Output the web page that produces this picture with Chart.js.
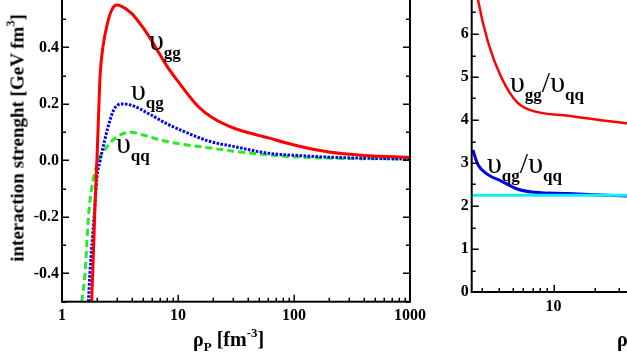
<!DOCTYPE html>
<html><head><meta charset="utf-8">
<script src="https://cdn.jsdelivr.net/npm/chart.js@4.4.0/dist/chart.umd.min.js"></script>
<style>
html,body{margin:0;padding:0;background:#fff;width:627px;height:357px;overflow:hidden;position:relative}
canvas{position:absolute;display:block}
#cl{left:0;top:-9px}
#cr{left:420px;top:-9px}
.t{position:absolute;font-family:"Liberation Serif","Times New Roman",serif;font-weight:bold;color:#000;white-space:nowrap;line-height:1}
.cl{font-size:30px;font-weight:normal}
.cl sub{font-size:17px;font-weight:bold;vertical-align:-8px;line-height:0}
.ax{font-size:20px}
.ax sub{font-size:13px;vertical-align:-5px;line-height:0}
.ax sup{font-size:13px;vertical-align:9px;line-height:0}
.yt{font-size:19px;transform:translate(-50%,-50%) rotate(-90deg)}
.yt sup{font-size:12px;vertical-align:9px;line-height:0}
</style></head>
<body>
<canvas id="cl" width="440" height="366"></canvas>
<canvas id="cr" width="420" height="366"></canvas>

<div class="t yt" style="left:17px;top:138px">interaction strenght [GeV fm<sup>3</sup>]</div>
<div class="t ax" style="left:193px;top:329px">ρ<sub>P</sub> [fm<sup>-3</sup>]</div>
<div class="t ax" style="left:617px;top:329px">ρ<sub>P</sub> [fm<sup>-3</sup>]</div>

<div class="t cl" style="left:149px;top:25px">υ<sub>gg</sub></div>
<div class="t cl" style="left:131px;top:75px">υ<sub>qg</sub></div>
<div class="t cl" style="left:116px;top:128px">υ<sub>qq</sub></div>
<div class="t cl" style="left:510px;top:67px">υ<sub>gg</sub>/υ<sub>qq</sub></div>
<div class="t cl" style="left:487px;top:148px">υ<sub>qg</sub>/υ<sub>qq</sub></div>

<script>
// ---------- data: left panel (interaction strength vs rho_P) ----------
const rhoGG = [1.80, 1.84, 1.93, 2.00, 2.07, 2.13, 2.25, 2.48, 2.70, 2.97, 3.30, 4.0, 5.0, 6.0, 8.0, 10, 15, 20, 30, 60, 100, 200, 400, 1000];
const vGG   = [-0.5, -0.4, -0.15, 0.0, 0.17, 0.30, 0.40, 0.49, 0.535, 0.55, 0.545, 0.52, 0.47, 0.42, 0.335, 0.28, 0.19, 0.15, 0.115, 0.08, 0.055, 0.03, 0.018, 0.011];

const rhoQG = [1.69, 1.74, 1.89, 2.00, 2.13, 2.30, 2.50, 2.80, 3.30, 4.0, 5.8, 8.0, 11.2, 19, 30, 59, 114, 219, 1000];
const vQG   = [-0.5, -0.4, -0.2, -0.06, 0.0, 0.06, 0.12, 0.18, 0.20, 0.195, 0.162, 0.13, 0.103, 0.067, 0.05, 0.026, 0.017, 0.011, 0.005];

const rhoQQ = [1.48, 1.58, 1.69, 1.80, 1.95, 2.10, 2.28, 2.60, 3.0, 3.87, 5.0, 8.0, 19, 30, 59, 114, 219, 1000];
const vQQ   = [-0.5, -0.4, -0.2, -0.1, -0.03, 0.01, 0.032, 0.062, 0.085, 0.10, 0.09, 0.067, 0.044, 0.033, 0.02, 0.012, 0.008, 0.005];

// ---------- data: right panel (ratios vs rho_P) ----------
const rhoRatio  = [2.55, 2.78, 3.29, 4.13, 5.47, 7.25, 12.8, 35.2, 60];
const rGGQQ     = [7.6, 6.8, 5.82, 4.99, 4.39, 4.20, 4.10, 3.92, 3.85];
const rQGQQ     = [3.30, 2.96, 2.73, 2.58, 2.39, 2.32, 2.29, 2.23, 2.21];
const rhoCasimir = [2.5, 1000];
const rCasimir   = [2.25, 2.25];

// ---------- ticks ----------
const leftXLabels  = [1, 10, 100, 1000];
const leftXMinor   = [2,3,4,5,6,7,8,9,20,30,40,50,60,70,80,90,200,300,400,500,600,700,800,900];
const leftYLabels  = [-0.4, -0.2, 0.0, 0.2, 0.4];
const leftYMajor   = [-0.4, -0.2, 0.0, 0.2, 0.4, 0.6];
const leftYMinor   = [-0.5, -0.3, -0.1, 0.1, 0.3, 0.5];

const rightXLabels = [10, 100, 1000];
const rightXMinor  = [3,4,5,6,7,8,9,20,30,40,50,60,70,80,90,200,300,400,500,600,700,800,900];
const rightYLabels = [0, 1, 2, 3, 4, 5, 6];
const rightYMajor  = [0, 1, 2, 3, 4, 5, 6, 7];
const rightYMinor  = [0.5, 1.5, 2.5, 3.5, 4.5, 5.5, 6.5];

const pts = (xs, ys) => xs.map((x, i) => ({x: x, y: ys[i]}));
const FONT = {family: '"Liberation Serif","Times New Roman",serif', weight: 'bold', size: 16};

const framePlugin = {
  id: 'frame',
  afterDraw(chart) {
    const o = chart.options.plugins.frame;
    const {ctx, chartArea: a, scales: {x, y}} = chart;
    ctx.save();
    ctx.strokeStyle = '#000';
    ctx.lineWidth = 2;
    ctx.strokeRect(a.left, a.top, a.right - a.left, a.bottom - a.top);
    ctx.lineWidth = 1.5;
    ctx.beginPath();
    const xt = (vals, len) => vals.forEach(v => {
      const px = Math.round(x.getPixelForValue(v)) + 0.25;
      ctx.moveTo(px, a.bottom); ctx.lineTo(px, a.bottom - len);
      ctx.moveTo(px, a.top); ctx.lineTo(px, a.top + len);
    });
    const yt = (vals, len) => vals.forEach(v => {
      const py = Math.round(y.getPixelForValue(v)) + 0.25;
      ctx.moveTo(a.left, py); ctx.lineTo(a.left + len, py);
      ctx.moveTo(a.right, py); ctx.lineTo(a.right - len, py);
    });
    xt(o.xMajor, 7); xt(o.xMinor, 4);
    yt(o.yMajor, 7); yt(o.yMinor, 4);
    ctx.stroke();
    ctx.restore();
  }
};

function makeChart(id, datasets, cfg) {
  return new Chart(document.getElementById(id), {
    type: 'line',
    data: {datasets: datasets},
    plugins: [framePlugin],
    options: {
      responsive: false,
      animation: false,
      events: [],
      layout: {padding: {left: 0, right: cfg.padRight, top: 0, bottom: 0}, autoPadding: false},
      elements: {point: {radius: 0}, line: {cubicInterpolationMode: 'monotone', borderCapStyle: 'butt'}},
      plugins: {
        legend: {display: false}, tooltip: {enabled: false}, title: {display: false},
        frame: {xMajor: cfg.xLabels, xMinor: cfg.xMinor, yMajor: cfg.yMajor, yMinor: cfg.yMinor}
      },
      scales: {
        x: {
          type: 'logarithmic', position: 'bottom', min: cfg.xMin, max: cfg.xMax,
          grid: {display: false, drawTicks: false}, border: {display: false},
          ticks: {font: FONT, color: '#000', padding: 5, maxRotation: 0, autoSkip: false,
                  callback: v => String(v)},
          afterBuildTicks: s => { s.ticks = cfg.xLabels.map(v => ({value: v})); },
          afterFit: s => { s.height = cfg.xHeight; s.paddingLeft = 0; s.paddingRight = 0; }
        },
        y: {
          type: 'linear', position: 'left', min: cfg.yMin, max: cfg.yMax,
          grid: {display: false, drawTicks: false}, border: {display: false},
          ticks: {font: FONT, color: '#000', padding: 3, autoSkip: false,
                  callback: cfg.yFmt},
          afterBuildTicks: s => { s.ticks = cfg.yLabels.map(v => ({value: v})); },
          afterFit: s => { s.width = cfg.yWidth; s.paddingTop = 0; s.paddingBottom = 0; }
        }
      }
    }
  });
}

makeChart('cl', [
  {data: pts(rhoGG, vGG), borderColor: '#ff0000', borderWidth: 3},
  {data: pts(rhoQG, vQG), borderColor: '#0000ff', borderWidth: 3, borderDash: [2.5, 1.5]},
  {data: pts(rhoQQ, vQQ), borderColor: '#22ee22', borderWidth: 3, borderDash: [7, 4]}
], {
  xMin: 1, xMax: 1000, yMin: -0.5, yMax: 0.6, padRight: 30, xHeight: 55.3, yWidth: 62,
  xLabels: leftXLabels, xMinor: leftXMinor, yLabels: leftYLabels, yMajor: leftYMajor, yMinor: leftYMinor,
  yFmt: v => Number(v).toFixed(1)
});

makeChart('cr', [
  {data: pts(rhoCasimir, rCasimir), borderColor: '#11eeff', borderWidth: 3, cubicInterpolationMode: 'default', tension: 0},
  {data: pts(rhoRatio, rQGQQ), borderColor: '#0000ee', borderWidth: 3},
  {data: pts(rhoRatio, rGGQQ), borderColor: '#ff0000', borderWidth: 2.5}
], {
  xMin: 2.5, xMax: 1000, yMin: 0, yMax: 7, padRight: 14.3, xHeight: 65, yWidth: 51.7,
  xLabels: rightXLabels, xMinor: rightXMinor, yLabels: rightYLabels, yMajor: rightYMajor, yMinor: rightYMinor,
  yFmt: v => String(v)
});
</script>
</body></html>
